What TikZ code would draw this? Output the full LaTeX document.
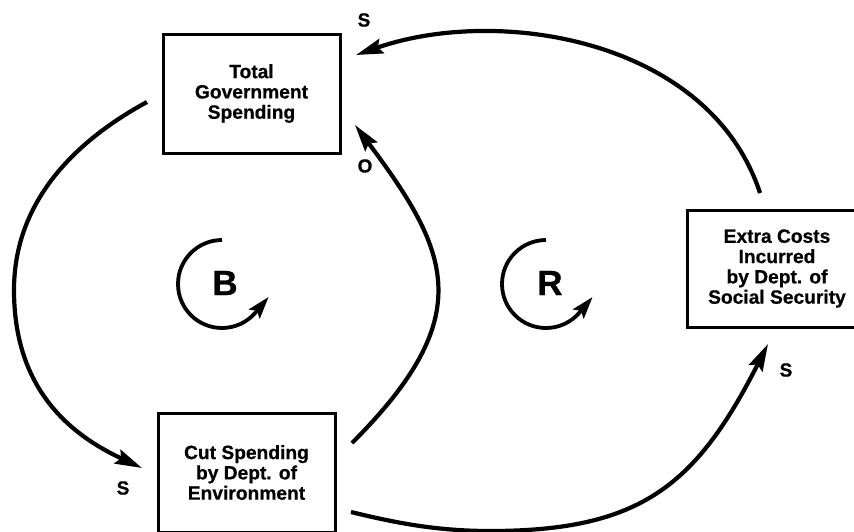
\documentclass[tikz,border=0pt]{standalone}
\usepackage{fontspec}
\setmainfont[BoldFeatures={FakeBold=0.6}]{Liberation Sans}
\usetikzlibrary{arrows.meta,calc}
\begin{document}
\begin{tikzpicture}[x=1pt,y=-1pt,
  box/.style={draw, line width=3pt, rectangle, inner sep=0pt, outer sep=0pt,
    align=center, font=\fontsize{19.2}{20.3}\selectfont\bfseries},
  link/.style={line width=4.2pt, -{Stealth[length=27pt,width=15pt,inset=4pt]}},
  loopline/.style={line width=3.8pt, -{Stealth[length=22pt,width=14pt,inset=4pt]}},
  sign/.style={font=\fontsize{19}{20}\selectfont\bfseries, inner sep=0pt},
  looplbl/.style={font=\fontsize{35}{36}\selectfont\bfseries, inner sep=0pt}]
\useasboundingbox (0,0) rectangle (854,531);

\node[box, minimum width=177pt, minimum height=119pt] (tgs) at (251.5,93.5) {Total\\Government\\Spending};
\node[box, minimum width=177pt, minimum height=119pt] (cse) at (246.5,472.5) {Cut Spending\\by Dept. of\\Environment};
\node[box, minimum width=180pt, minimum height=117pt] (ecs) at (777,268.5) {Extra Costs\\Incurred\\by Dept. of\\Social Security};

\node[looplbl] (B) at (225,283) {B};
\node[looplbl] (R) at (550,283) {R};

% connectors
\draw[link] ($(tgs.west)+(-16,8.5)$) .. controls (77,140) and (14,200) .. (14,290)
  .. controls (14,380) and (60,430) .. ($(cse.west)+(-16,-4.5)$);
\draw[link] ($(cse.east)+(17,-29.5)$) .. controls (479,316) and (450,252) .. ($(tgs.east)+(15,31.5)$);
\draw[link] ($(cse.east)+(16,39.5)$) .. controls (400,524) and (440,531) .. (490,531)
  .. controls (640,531) and (696,486) .. ($(ecs.south)+(-9,17)$);
\draw[link] ($(ecs.north)+(-17,-17)$) .. controls (710,40) and (500,5) .. ($(tgs.east)+(16,-38.5)$);

% loop symbols
\draw[loopline] ($(B)+(-3,-43)$) arc[start angle=270, end angle=40, radius=44] -- ++(12.9,-15.3);
\draw[loopline] ($(R)+(-4,-43)$) arc[start angle=270, end angle=40, radius=44] -- ++(12.9,-15.3);

% polarity labels
\node[sign] (s1) at (364,20) {S};
\node[sign] (o1) at (365,166) {O};
\node[sign] (s2) at (123,488) {S};
\node[sign] (s3) at (786,370) {S};
\end{tikzpicture}
\end{document}
